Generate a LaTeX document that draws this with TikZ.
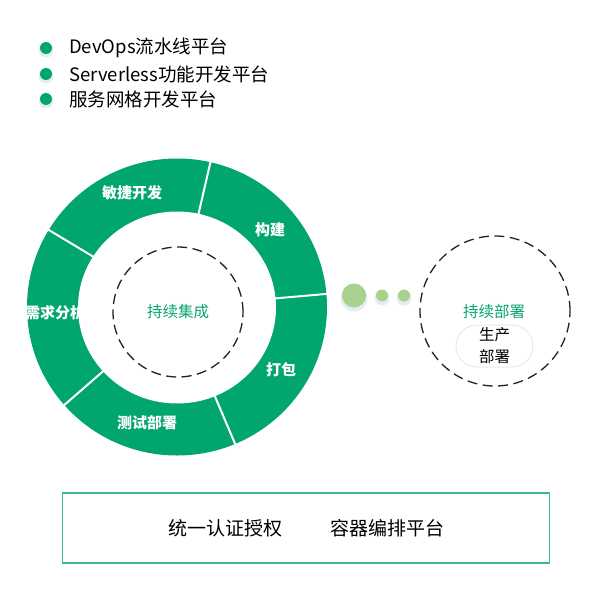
\documentclass[tikz,border=0pt]{standalone}
\usepackage{fontspec}
\setmainfont{Noto Sans CJK SC}
\definecolor{ringgreen}{HTML}{00A66E}
\definecolor{textgreen}{HTML}{0AA46F}
\definecolor{boxgreen}{HTML}{3DB98D}
\definecolor{ballgreen}{HTML}{A9D18E}
\definecolor{shadowc}{HTML}{B8C8E0}
\definecolor{pillgray}{HTML}{E4EAF1}
\definecolor{dashgray}{HTML}{222222}
\begin{document}
\begin{tikzpicture}[x=1pt,y=-1pt,
  bullet/.style={circle,fill=ringgreen,minimum size=12pt,inner sep=0pt},
  legendtext/.style={anchor=west,inner sep=0pt,font=\fontsize{18.5}{21}\selectfont,text=black},
  ringlabel/.style={inner sep=0pt,text=white,font=\fontsize{15}{18}\selectfont\bfseries},
  greenlabel/.style={inner sep=0pt,text=textgreen,font=\fontsize{15.5}{18}\selectfont},
  dashcircle/.style={draw=dashgray,line width=1.3pt,dash pattern=on 10pt off 5.5pt},
  ball/.style={circle,fill=ballgreen,inner sep=0pt},
  pillbox/.style={draw=pillgray,line width=1pt,rounded corners=21pt,minimum width=77pt,minimum height=42pt,
    align=center,inner sep=0pt,font=\fontsize{15.5}{22}\selectfont},
  basetext/.style={inner sep=0pt,font=\fontsize{19}{22}\selectfont,text=black}]
\useasboundingbox (0,0) rectangle (604,591);
\fill[white] (0,0) rectangle (604,591);

% legend
\foreach \y/\t [count=\i] in {48/DevOps流水线平台,74/Serverless功能开发平台,99/服务网格开发平台} {
  \fill[shadowc,opacity=.35] (46,\y+2) circle (7.5pt);
  \node[bullet] (b\i) at (46,\y) {};
  \node[legendtext] (l\i) at (69,\y) {\t};
}

% ring
\fill[ringgreen] (177,307) ellipse [x radius=150pt, y radius=148.5pt];
\node[ringlabel] (s1) at (132,193) {敏捷开发};
\node[ringlabel] (s2) at (270,230) {构建};
\node[ringlabel] (s3) at (281,370) {打包};
\node[ringlabel] (s4) at (147,423) {测试部署};
\node[ringlabel,anchor=west] (s5) at (25,313) {需求分析};
\foreach \a in {5,77,149,221,293}
  \draw[white,line width=2pt] (177,307) -- ++(\a:152pt);
\fill[white] (177,307.5) ellipse [x radius=99pt, y radius=96pt];
\node[dashcircle,circle,minimum size=130pt,inner sep=0pt] (ci) at (178,312) {};
\node[greenlabel] (cil) at (178,312) {持续集成};

% balls
\foreach \x/\r [count=\i] in {354/12,382/6,404/6} {
  \fill[shadowc,opacity=.35] (\x,298) circle (\r pt+1.5pt);
  \node[ball,minimum size=2*\r pt] (d\i) at (\x,295.5) {};
}

% continuous deployment
\node[dashcircle,circle,minimum size=150pt,inner sep=0pt] (cd) at (495,311) {};
\node[greenlabel] (cdl) at (494,312) {持续部署};
\node[pillbox] (prod) at (494.5,346) {生产\\部署};

% base box
\node[draw=boxgreen,line width=1.5pt,minimum width=487pt,minimum height=70pt,inner sep=0pt] (base) at (306,528) {};
\node[basetext] (auth) at (225,528) {统一认证授权};
\node[basetext] (orch) at (387,528) {容器编排平台};
\end{tikzpicture}
\end{document}
